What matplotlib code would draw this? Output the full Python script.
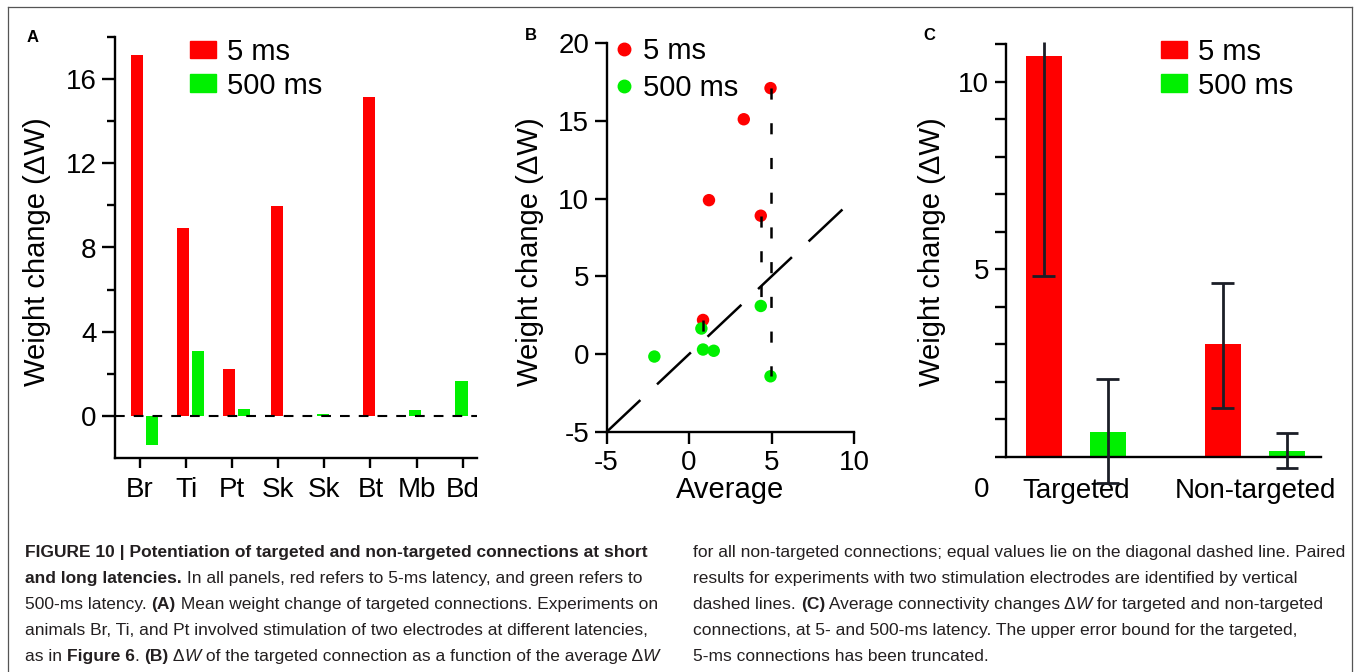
import matplotlib
matplotlib.use('Agg')
import matplotlib.pyplot as plt
import numpy as np
from matplotlib import font_manager
from matplotlib.lines import Line2D
from matplotlib.patches import Patch

W_PX, H_PX = 1354, 672

# ---- panel A : mean weight change per animal
a_animals = ['Br', 'Ti', 'Pt', 'Sk', 'Sk', 'Bt', 'Mb', 'Bd']
a_5ms = [17.15, 8.93, 2.23, 9.98, np.nan, 15.15, np.nan, np.nan]
a_500ms = [-1.38, 3.09, 0.33, np.nan, 0.10, np.nan, 0.27, 1.67]

# ---- panel B : targeted vs average dW
b_avg_5ms = [4.94, 3.32, 1.21, 4.35, 0.85]
b_dw_5ms = [17.1, 15.1, 9.9, 8.9, 2.2]
b_avg_500ms = [4.35, 0.75, 0.85, 1.5, -2.1, 4.94]
b_dw_500ms = [3.1, 1.65, 0.3, 0.22, -0.15, -1.42]
b_pair_x = [4.94, 4.35, 0.85]
b_pair_top = [17.1, 8.9, 2.2]
b_pair_bottom = [-1.42, 3.1, 0.3]
b_diag = [-5, 9.5]

# ---- panel C : average connectivity change
c_groups = ['Targeted', 'Non-targeted']
c_5ms = [10.69, 3.01]
c_500ms = [0.67, 0.15]
c_5ms_lo = [4.81, 1.31]
c_5ms_hi = [11.05, 4.64]
c_500ms_lo = [-0.69, -0.28]
c_500ms_hi = [2.09, 0.64]

RED = '#ff0000'
GREEN = '#00f000'
ERR = '#1b1e27'

plt.rcParams['font.family'] = ['Liberation Sans', 'DejaVu Sans']
plt.rcParams['lines.scale_dashes'] = False
plt.rcParams['axes.unicode_minus'] = False

fig = plt.figure(figsize=(W_PX / 100, H_PX / 100), dpi=100)


def px_axes(left, top, right, bottom):
    return fig.add_axes([left / W_PX, 1 - bottom / H_PX,
                         (right - left) / W_PX, (bottom - top) / H_PX])


def style_axes(ax):
    for s in ['top', 'right']:
        ax.spines[s].set_visible(False)
    for s in ['left', 'bottom']:
        ax.spines[s].set_linewidth(1.7)
    ax.tick_params(width=1.7, labelsize=20, direction='out')


# ================= A
ax_a = px_axes(115, 37, 477, 458)
style_axes(ax_a)
xa = np.arange(len(a_animals))
bw = 0.27
for i in xa:
    both = not np.isnan(a_5ms[i]) and not np.isnan(a_500ms[i])
    if both:
        ax_a.bar(i - 0.065, a_5ms[i], bw, color=RED, zorder=2)
        ax_a.bar(i + 0.26, a_500ms[i], bw, color=GREEN, zorder=2)
    elif not np.isnan(a_5ms[i]):
        ax_a.bar(i - 0.03, a_5ms[i], bw, color=RED, zorder=2)
    else:
        ax_a.bar(i - 0.03, a_500ms[i], bw, color=GREEN, zorder=2)
ax_a.axhline(0, color='black', lw=1.5, ls=(0, (7, 6.5)), zorder=3)
ax_a.set_xlim(-0.54, 7.31)
ax_a.set_ylim(-2, 18)
ax_a.set_yticks([0, 4, 8, 12, 16])
ax_a.set_yticks([2, 6, 10, 14, 18], minor=True)
ax_a.tick_params(axis='y', which='major', length=9.4, pad=4)
ax_a.tick_params(axis='y', which='minor', length=5.8, width=1.7)
ax_a.set_xticks(xa)
ax_a.set_xticklabels(a_animals)
ax_a.tick_params(axis='x', length=7, pad=7)
ax_a.set_ylabel('Weight change (ΔW)', fontsize=21, va='center')
ax_a.yaxis.set_label_coords(-0.215, 0.489)
ax_a.legend(handles=[Patch(color=RED, label='5 ms'), Patch(color=GREEN, label='500 ms')],
            loc='upper left', bbox_to_anchor=(190 / W_PX, 1 - 38 / H_PX),
            bbox_transform=fig.transFigure, frameon=False, fontsize=21,
            handlelength=0.9, handleheight=0.55, handletextpad=0.38,
            labelspacing=0.19, borderpad=0, borderaxespad=0)
fig.text(33 / W_PX, 1 - 37 / H_PX, 'A', fontsize=12, fontweight='bold', ha='center', va='center')

# ================= B
ax_b = px_axes(606.5, 43, 854, 432)
style_axes(ax_b)
ax_b.scatter(b_avg_5ms, b_dw_5ms, s=80, color=RED, edgecolors='none', zorder=2, clip_on=False)
ax_b.scatter(b_avg_500ms, b_dw_500ms, s=80, color=GREEN, edgecolors='none', zorder=2, clip_on=False)
ax_b.plot(b_diag, b_diag, color='black', lw=1.8, ls=(0, (33.5, 16.5)), zorder=3)
# paired experiments: dashes start at the 5 ms point
ax_b.vlines(b_pair_x, b_pair_top, b_pair_bottom, color='black', lw=1.8,
            linestyles=[(0, (8, 17))], zorder=3)
ax_b.set_xlim(-5, 10)
ax_b.set_ylim(-5, 20)
ax_b.set_xticks([-5, 0, 5, 10])
ax_b.set_yticks([-5, 0, 5, 10, 15, 20])
ax_b.tick_params(axis='both', length=8.6, pad=4)
ax_b.set_xlabel('Average', fontsize=21, labelpad=0)
ax_b.set_ylabel('Weight change (ΔW)', fontsize=21, va='center')
ax_b.yaxis.set_label_coords(-0.309, 0.463)
ax_b.legend(handles=[Line2D([], [], ls='none', marker='o', ms=9, color=RED, label='5 ms'),
                     Line2D([], [], ls='none', marker='o', ms=9, color=GREEN, label='500 ms')],
            loc='upper left', bbox_to_anchor=(615 / W_PX, 1 - 37 / H_PX),
            bbox_transform=fig.transFigure, frameon=False, fontsize=21,
            handlelength=0.6, handletextpad=0.36, labelspacing=0.3,
            borderpad=0, borderaxespad=0)
fig.text(531 / W_PX, 1 - 36 / H_PX, 'B', fontsize=12, fontweight='bold', ha='center', va='center')

# ================= C
ax_c = px_axes(1006, 44, 1320.7, 457)
style_axes(ax_c)
xc = np.arange(len(c_groups))
off, cw, cap = 0.179, 0.2, 0.064
ax_c.bar(xc - off, c_5ms, cw, color=RED, zorder=2)
ax_c.bar(xc + off, c_500ms, cw, color=GREEN, zorder=2)
ylim_c = 11
for xs, lo, hi in [(xc - off, c_5ms_lo, c_5ms_hi), (xc + off, c_500ms_lo, c_500ms_hi)]:
    ax_c.vlines(xs, lo, hi, color=ERR, lw=2, zorder=3, clip_on=False)
    ax_c.hlines(lo, xs - cap, xs + cap, color=ERR, lw=2, zorder=3, clip_on=False)
    for x, h in zip(xs, hi):
        if h < ylim_c:  # truncated bound has no cap
            ax_c.hlines(h, x - cap, x + cap, color=ERR, lw=2, zorder=3, clip_on=False)
ax_c.set_xlim(-0.39, 1.367)
ax_c.set_ylim(0, ylim_c)
ax_c.set_yticks(range(12))
ax_c.set_yticklabels(['' if v not in (5, 10) else str(v) for v in range(12)])
ax_c.tick_params(axis='y', length=8, pad=4)
ax_c.set_xticks(xc)
ax_c.set_xticklabels(c_groups)
ax_c.tick_params(axis='x', length=0, pad=15)
ax_c.text(-0.076, -0.08, '0', transform=ax_c.transAxes, fontsize=20, ha='center', va='center')
ax_c.set_ylabel('Weight change (ΔW)', fontsize=21, va='center')
ax_c.yaxis.set_label_coords(-0.235, 0.496)
ax_c.legend(handles=[Patch(color=RED, label='5 ms'), Patch(color=GREEN, label='500 ms')],
            loc='upper left', bbox_to_anchor=(1161 / W_PX, 1 - 38 / H_PX),
            bbox_transform=fig.transFigure, frameon=False, fontsize=21,
            handlelength=0.9, handleheight=0.55, handletextpad=0.38,
            labelspacing=0.19, borderpad=0, borderaxespad=0)
fig.text(929 / W_PX, 1 - 35 / H_PX, 'C', fontsize=12, fontweight='bold', ha='center', va='center')

# ================= frame
frame_c = '#555555'
for xs, ys in [([8, 1352], [7, 7]), ([8, 8], [7, 672]), ([1352, 1352], [7, 672])]:
    fig.add_artist(Line2D([x / W_PX for x in xs], [1 - y / H_PX for y in ys],
                          transform=fig.transFigure, color=frame_c, lw=0.9))

# ================= caption
names = {f.name for f in font_manager.fontManager.ttflist}
cap_font = 'Liberation Sans Narrow' if 'Liberation Sans Narrow' in names else 'Liberation Sans'
cap_size = 12.2 if cap_font == 'Liberation Sans Narrow' else 12.5
cap_color = '#231f20'
renderer = fig.canvas.get_renderer()


def text_width(s, **kw):
    t = fig.text(0, 0, s + '|', **kw)
    p = fig.text(0, 0, '|', **kw)
    w = t.get_window_extent(renderer).width - p.get_window_extent(renderer).width
    t.remove()
    p.remove()
    return w


def rich_line(x_px, base_px, parts):
    x = x_px
    for txt, weight, style in parts:
        kw = dict(fontsize=cap_size, fontweight=weight, fontstyle=style,
                  family=[cap_font, 'DejaVu Sans'], color=cap_color)
        fig.text(x / W_PX, 1 - base_px / H_PX, txt, ha='left', va='baseline', **kw)
        x += text_width(txt, **kw)


N, B, I = ('normal', 'normal'), ('bold', 'normal'), ('normal', 'italic')
left_lines = [
    [('FIGURE 10 | Potentiation of targeted and non-targeted connections at short', *B)],
    [('and long latencies.', *B), (' In all panels, red refers to 5-ms latency, and green refers to', *N)],
    [('500-ms latency. ', *N), ('(A)', *B), (' Mean weight change of targeted connections. Experiments on', *N)],
    [('animals Br, Ti, and Pt involved stimulation of two electrodes at different latencies,', *N)],
    [('as in ', *N), ('Figure 6', *B), ('. ', *N), ('(B)', *B), (' Δ', *N), ('W', *I),
     (' of the targeted connection as a function of the average Δ', *N), ('W', *I)],
]
right_lines = [
    [('for all non-targeted connections; equal values lie on the diagonal dashed line. Paired', *N)],
    [('results for experiments with two stimulation electrodes are identified by vertical', *N)],
    [('dashed lines. ', *N), ('(C)', *B), (' Average connectivity changes Δ', *N), ('W', *I),
     (' for targeted and non-targeted', *N)],
    [('connections, at 5- and 500-ms latency. The upper error bound for the targeted,', *N)],
    [('5-ms connections has been truncated.', *N)],
]
baselines = [557, 583, 609, 635, 661]
for parts, y in zip(left_lines, baselines):
    rich_line(25, y, parts)
for parts, y in zip(right_lines, baselines):
    rich_line(693, y, parts)

fig.savefig('out.png', dpi=100, facecolor='white')
